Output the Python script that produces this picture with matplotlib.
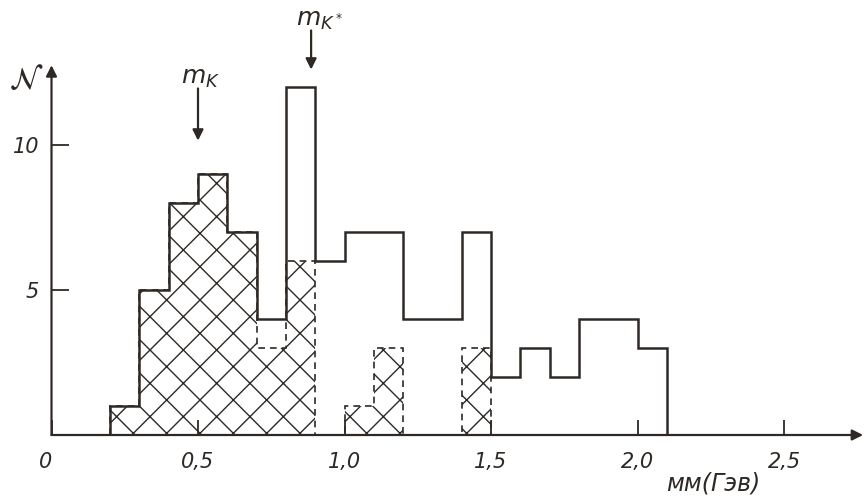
import matplotlib
matplotlib.use("Agg")
import matplotlib.pyplot as plt
import matplotlib.transforms as mtransforms
import numpy as np

# Data
bin_edges = [0.2, 0.3, 0.4, 0.5, 0.6, 0.7, 0.8, 0.9, 1.0, 1.1, 1.2, 1.3, 1.4,
             1.5, 1.6, 1.7, 1.8, 1.9, 2.0, 2.1]
total_counts = [1, 5, 8, 9, 7, 4, 12, 6, 7, 7, 4, 4, 7, 2, 3, 2, 4, 4, 3]
hatched_counts = [1, 5, 8, 9, 7, 3, 6, 0, 1, 3, 0, 0, 3, 0, 0, 0, 0, 0, 0]
x_ticks = [0, 0.5, 1.0, 1.5, 2.0, 2.5]
x_tick_labels = ["0", "0,5", "1,0", "1,5", "2,0", "2,5"]
y_ticks = [5, 10]
y_tick_labels = ["5", "10"]
m_K = 0.5
m_Kstar = 0.886

ink = "#2e2925"
plt.rcParams["hatch.linewidth"] = 1.0
plt.rcParams["font.family"] = ["DejaVu Sans"]

fig = plt.figure(figsize=(8.67, 5.01), dpi=100)
fig.patch.set_facecolor("white")
ax = fig.add_axes([51.5 / 867, 66 / 501, 2.78 * 293 / 867, 14.5 * 29 / 501])
ax.set_xlim(0, 2.78)
ax.set_ylim(0, 14.5)
for s in ax.spines.values():
    s.set_visible(False)

# hatched subset
ax.stairs(hatched_counts, bin_edges, fill=True, hatch="x", facecolor="none",
          edgecolor=ink, linewidth=0)
ax.stairs(hatched_counts, bin_edges, baseline=0, color=ink, linewidth=1.2,
          linestyle=(0, (4, 3)))
# total outline
ax.stairs(total_counts, bin_edges, baseline=0, color=ink, linewidth=1.8)

# axes with arrows
arrow_kw = dict(arrowstyle="-|>", color=ink, lw=1.6, shrinkA=0, shrinkB=0,
                mutation_scale=16)
ax.annotate("", xy=(2.77, 0), xytext=(0, 0), arrowprops=arrow_kw,
            annotation_clip=False)
ax.annotate("", xy=(0, 12.75), xytext=(0, 0), arrowprops=arrow_kw,
            annotation_clip=False)

ax.set_xticks(x_ticks)
ax.set_xticklabels(x_tick_labels, fontsize=15, style="italic", color=ink)
ax.set_yticks(y_ticks)
ax.set_yticklabels(y_tick_labels, fontsize=15, style="italic", color=ink)
ax.tick_params(axis="x", direction="in", length=11, width=1.3, color=ink, pad=12)
ax.tick_params(axis="y", direction="in", length=12, width=1.3, color=ink, pad=9)
fig.canvas.draw()
lbl0 = ax.get_xticklabels()[0]
lbl0.set_transform(lbl0.get_transform() +
                   mtransforms.ScaledTranslation(-6 / 100, 0, fig.dpi_scale_trans))

# labels
ax.text(-0.087, 12.25, r"$\mathcal{N}$", fontsize=22, color=ink,
        ha="center", va="center", clip_on=False)
ax.text(2.26, -1.68, "мм(Гэв)", fontsize=17, style="italic", color=ink,
        ha="center", va="center", clip_on=False)

# mass markers
ax.annotate("", xy=(m_K, 10.15), xytext=(m_K, 11.95), arrowprops=arrow_kw,
            annotation_clip=False)
ax.text(m_K + 0.01, 12.3, r"$m_K$", fontsize=18, color=ink,
        ha="center", va="center", clip_on=False)
ax.annotate("", xy=(m_Kstar, 12.6), xytext=(m_Kstar, 13.95), arrowprops=arrow_kw,
            annotation_clip=False)
ax.text(m_Kstar + 0.03, 14.3, r"$m_{K^*}$", fontsize=18, color=ink,
        ha="center", va="center", clip_on=False)

fig.savefig("out.png", dpi=100, facecolor="white")
